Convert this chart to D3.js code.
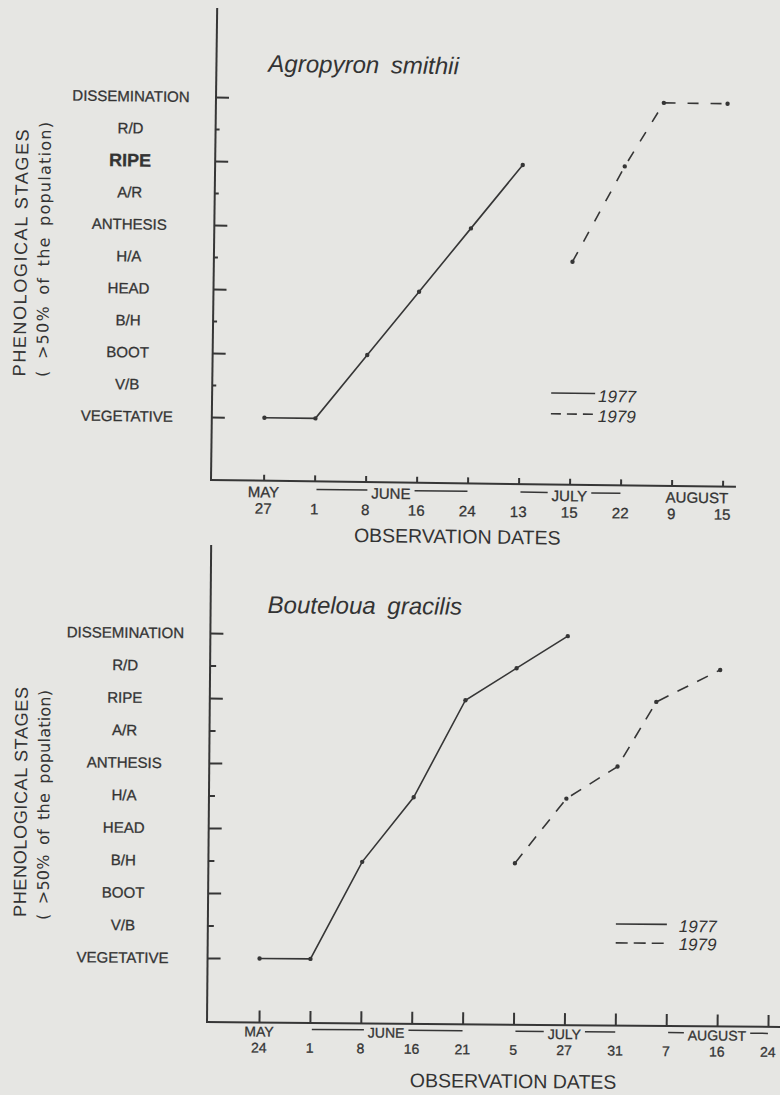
<!DOCTYPE html>
<html>
<head>
<meta charset="utf-8">
<script src="https://cdn.jsdelivr.net/npm/d3@7"></script>
<style>
	body { margin: 0; background: #e6e6e3; }
	svg { display: block; }
	text { fill: #333; font-family: "Liberation Sans", Arial, sans-serif; }
</style>
</head>
<body>
<div id="chart"></div>
<script>

// phenological stages, bottom to top
var stages = ['VEGETATIVE', 'V/B', 'BOOT', 'B/H', 'HEAD', 'H/A', 'ANTHESIS', 'A/R', 'RIPE', 'R/D', 'DISSEMINATION'];
var majorStages = ['VEGETATIVE', 'BOOT', 'HEAD', 'ANTHESIS', 'RIPE', 'DISSEMINATION'];
var years = ['1977', '1979'];

// Agropyron smithii
var agroDays = ['27', '1', '8', '16', '24', '13', '15', '22', '9', '15'];
var agroMonths = [
	{ name: 'MAY', from: 0, to: 0 },
	{ name: 'JUNE', from: 1, to: 4 },
	{ name: 'JULY', from: 5, to: 7 },
	{ name: 'AUGUST', from: 8, to: 9 }
];
// [observation index, stage index]
var agro1977 = [[0, 0], [1, 0], [2, 2], [3, 4], [4, 6], [5, 8]];
var agro1979 = [[6, 5], [7, 8], [7.75, 10], [9, 10]];

// Bouteloua gracilis
var boutDays = ['24', '1', '8', '16', '21', '5', '27', '31', '7', '16', '24'];
var boutMonths = [
	{ name: 'MAY', from: 0, to: 0 },
	{ name: 'JUNE', from: 1, to: 4 },
	{ name: 'JULY', from: 5, to: 7 },
	{ name: 'AUGUST', from: 8, to: 10 }
];
var bout1977 = [[0, 0], [1, 0], [2, 3], [3, 5], [4, 8], [5, 9], [6, 10]];
var bout1979 = [[5, 3], [6, 5], [7, 6], [7.75, 8], [9, 9]];

var width = 780, height = 1095;
var ink = '#363636';

var svg = d3.select('#chart').append('svg').attr('width', width).attr('height', height);
svg.append('rect').attr('width', width).attr('height', height).attr('fill', '#e6e6e3');

function drawPanel(p) {

	// the scan is a little tilted, so each panel is turned round its axis corner
	var g = svg.append('g')
		.attr('transform', 'translate(' + p.corner[0] + ',' + p.corner[1] + ') rotate(' + p.angle + ')');

	var x = d3.scaleLinear().domain([0, p.days.length - 1]).range(p.xRange);
	var y = d3.scaleLinear().domain([0, stages.length - 1]).range(p.yRange);

	g.append('line').attr('x1', 0).attr('y1', 1).attr('x2', 0).attr('y2', p.axisTop)
		.attr('stroke', ink).attr('stroke-width', 2);
	g.append('line').attr('x1', -1).attr('y1', 0).attr('x2', p.axisRight).attr('y2', 0)
		.attr('stroke', ink).attr('stroke-width', 2);

	var idx = d3.range(stages.length);
	var major = idx.filter(function (i) { return majorStages.indexOf(stages[i]) >= 0; });
	var minor = idx.filter(function (i) { return majorStages.indexOf(stages[i]) < 0; });

	g.append('g').attr('color', ink)
		.call(d3.axisRight(y).tickValues(major).tickSize(p.majorTick).tickFormat(''))
		.call(function (a) { a.select('.domain').remove(); });
	g.append('g').attr('color', ink)
		.call(d3.axisRight(y).tickValues(minor).tickSize(p.minorTick).tickFormat(''))
		.call(function (a) { a.select('.domain').remove(); });
	g.append('g').attr('color', ink)
		.call(d3.axisTop(x).tickValues(d3.range(p.days.length)).tickSize(p.xTick).tickFormat(''))
		.call(function (a) { a.select('.domain').remove(); });
	g.selectAll('.tick line').attr('stroke-width', 2);

	// stage labels
	g.selectAll('.stage')
		.data(stages)
		.enter().append('text')
		.attr('class', 'stage')
		.attr('x', p.labelX)
		.attr('y', function (d, i) { return y(i); })
		.attr('dy', '0.36em')
		.attr('text-anchor', 'middle')
		.style('font-size', function (d) { return d === p.boldStage ? '18px' : '15px'; })
		.style('font-weight', function (d) { return d === p.boldStage ? 'bold' : null; })
		.style('stroke', ink).style('stroke-width', 0.3)
		.text(function (d) { return d; });

	// day labels
	g.selectAll('.day')
		.data(p.days)
		.enter().append('text')
		.attr('class', 'day')
		.attr('x', function (d, i) { return x(i); })
		.attr('y', p.dayBase)
		.attr('text-anchor', 'middle')
		.style('font-size', p.dateSize + 'px')
		.style('stroke', ink).style('stroke-width', 0.3)
		.text(function (d) { return d; });

	// month labels with their span lines
	p.months.forEach(function (m) {
		var cx = x((m.from + m.to) / 2);
		var t = g.append('text')
			.attr('x', cx).attr('y', p.monthBase)
			.attr('text-anchor', 'middle')
			.style('font-size', p.dateSize + 'px')
			.style('stroke', ink).style('stroke-width', 0.3)
			.text(m.name);
		var w = t.node().getComputedTextLength();
		var gap = 4;
		var left = [x(m.from) + 2, cx - w / 2 - gap];
		var right = [cx + w / 2 + gap, x(m.to)];
		[left, right].forEach(function (s) {
			if (s[1] - s[0] > 6) {
				g.append('line')
					.attr('x1', s[0]).attr('x2', s[1])
					.attr('y1', p.monthLine).attr('y2', p.monthLine)
					.attr('stroke', ink).attr('stroke-width', 1.5);
			}
		});
	});

	g.append('text')
		.attr('x', p.xTitle[0]).attr('y', p.xTitle[1])
		.attr('text-anchor', 'middle')
		.style('font-size', '19.5px')
		.text('OBSERVATION DATES');

	// y title, two rotated lines
	g.append('text')
		.attr('transform', 'translate(' + p.yTitle1[0] + ',' + p.yTitle1[1] + ') rotate(-90)')
		.attr('text-anchor', 'middle')
		.attr('textLength', p.yTitle1[2]).attr('lengthAdjust', 'spacing')
		.style('font-size', '18px')
		.text('PHENOLOGICAL  STAGES');
	g.append('text')
		.attr('transform', 'translate(' + p.yTitle2[0] + ',' + p.yTitle2[1] + ') rotate(-90)')
		.attr('text-anchor', 'middle')
		.attr('textLength', p.yTitle2[2]).attr('lengthAdjust', 'spacing')
		.style('font-family', '"DejaVu Sans", sans-serif')
		.style('font-size', '16px')
		.style('word-spacing', '4px')
		.text('( >50% of the population)');

	g.append('text')
		.attr('x', p.title[0]).attr('y', p.title[1])
		.style('font-size', '24px')
		.style('font-style', 'italic')
		.style('word-spacing', '5px')
		.text(p.name);

	var line = d3.line()
		.x(function (d) { return x(d[0]); })
		.y(function (d) { return y(d[1]); });

	var series = [
		{ values: p.s1977, dash: null },
		{ values: p.s1979, dash: p.dash }
	];

	series.forEach(function (s) {
		g.append('path')
			.datum(s.values)
			.attr('d', line)
			.attr('fill', 'none')
			.attr('stroke', ink)
			.attr('stroke-width', 1.6)
			.attr('stroke-dasharray', s.dash);

		g.selectAll(null)
			.data(s.values)
			.enter().append('circle')
			.attr('cx', function (d) { return x(d[0]); })
			.attr('cy', function (d) { return y(d[1]); })
			.attr('r', 2.2)
			.attr('fill', ink);
	});

	// legend
	years.forEach(function (yr, i) {
		var ly = p.legend.lineY[i];
		g.append('line')
			.attr('x1', p.legend.x[0]).attr('x2', p.legend.x[1])
			.attr('y1', ly).attr('y2', ly)
			.attr('stroke', ink).attr('stroke-width', 1.6)
			.attr('stroke-dasharray', i === 1 ? p.legend.dash : null);
		g.append('text')
			.attr('x', p.legend.textX).attr('y', p.legend.textY[i])
			.style('font-size', '17px')
			.style('font-style', 'italic')
			.text(yr);
	});
}

drawPanel({
	name: 'Agropyron smithii',
	days: agroDays,
	months: agroMonths,
	s1977: agro1977,
	s1979: agro1979,
	corner: [211, 480],
	angle: 0.75,
	xRange: [52.6, 511.6],
	yRange: [-63, -383],
	axisTop: -472,
	axisRight: 525,
	majorTick: 13,
	minorTick: 4,
	xTick: 6,
	labelX: -85,
	boldStage: 'RIPE',
	dateSize: 15,
	monthBase: 16.5,
	monthLine: 8,
	dayBase: 33,
	title: [52, -409],
	xTitle: [247, 60],
	yTitle1: [-187, -224.6, 247],
	yTitle2: [-164.6, -228.4, 255],
	dash: '11,12',
	legend: { x: [339, 383], lineY: [-91.5, -70.7], textX: 386, textY: [-83, -63], dash: '10,6' }
});

drawPanel({
	name: 'Bouteloua gracilis',
	days: boutDays,
	months: boutMonths,
	s1977: bout1977,
	s1979: bout1979,
	corner: [207, 1022],
	angle: 0.5,
	xRange: [52, 561],
	yRange: [-64, -389],
	axisTop: -477,
	axisRight: 585,
	majorTick: 13,
	minorTick: 6,
	xTick: 12,
	labelX: -85,
	boldStage: null,
	dateSize: 14,
	monthBase: 14,
	monthLine: 6.5,
	dayBase: 30,
	title: [57, -409.5],
	xTitle: [306.6, 63.3],
	yTitle1: [-182, -218.4, 230],
	yTitle2: [-159.5, -215.6, 230],
	dash: '12,10',
	legend: { x: [408, 459], lineY: [-101.6, -82.7], textX: 471, textY: [-94, -76], dash: '12,6' }
});

</script>
</body>
</html>
